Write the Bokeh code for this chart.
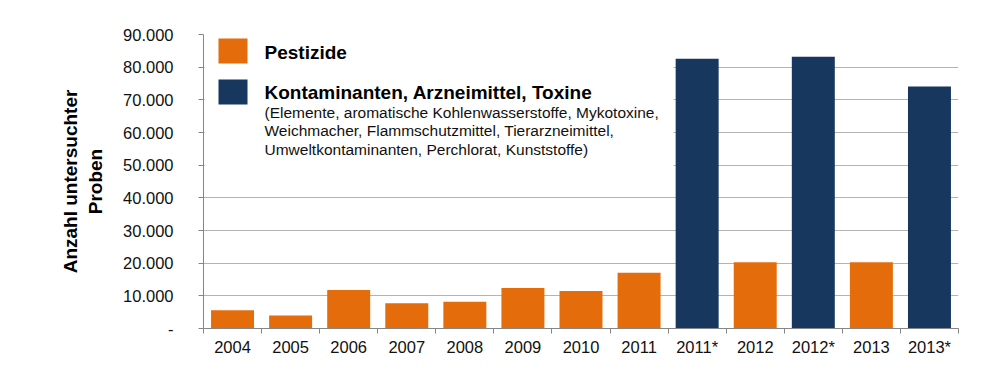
from bokeh.plotting import figure
from bokeh.models import Range1d, FixedTicker, BoxAnnotation, Label
from bokeh.embed import file_html
from bokeh.resources import INLINE

categories = ["2004", "2005", "2006", "2007", "2008", "2009", "2010", "2011",
              "2011*", "2012", "2012*", "2013", "2013*"]
pest_years = ["2004", "2005", "2006", "2007", "2008", "2009", "2010", "2011", "2012", "2013"]
pest_values = [5600, 4000, 11800, 7700, 8200, 12400, 11500, 17100, 20300, 20300]
kont_years = ["2011*", "2012*", "2013*"]
kont_values = [82600, 83200, 74100]
series_names = ["Pestizide", "Kontaminanten, Arzneimittel, Toxine"]
kont_detail = ["(Elemente, aromatische Kohlenwasserstoffe, Mykotoxine,",
               "Weichmacher, Flammschutzmittel, Tierarzneimittel,",
               "Umweltkontaminanten, Perchlorat, Kunststoffe)"]
y_ticks = [0, 10000, 20000, 30000, 40000, 50000, 60000, 70000, 80000, 90000]
y_tick_labels = ["-", "10.000", "20.000", "30.000", "40.000", "50.000",
                 "60.000", "70.000", "80.000", "90.000"]
y_title = "Anzahl untersuchter\nProben"

ORANGE = "#E46C0A"
NAVY = "#17375E"
FONT = "Liberation Sans"

n = len(categories)
centers = [i + 0.5 for i in range(n)]
bounds = [float(i) for i in range(n + 1)]

p = figure(width=984, height=375, output_backend="svg", toolbar_location=None,
           x_range=Range1d(0, n), y_range=Range1d(0, 90000),
           min_border_left=203, min_border_right=26, min_border_top=34,
           min_border_bottom=47)
p.outline_line_color = None
p.background_fill_color = "white"
p.border_fill_color = "white"

pest_x = [categories.index(c) + 0.5 for c in pest_years]
kont_x = [categories.index(c) + 0.5 for c in kont_years]
p.vbar(x=pest_x, top=pest_values, width=0.74, bottom=0, fill_color=ORANGE, line_color=None)
p.vbar(x=kont_x, top=kont_values, width=0.74, bottom=0, fill_color=NAVY, line_color=None)

# x axis
xa = p.xaxis[0]
xa.ticker = FixedTicker(ticks=centers, minor_ticks=bounds)
xa.major_label_overrides = {c: lab for c, lab in zip(centers, categories)}
xa.major_tick_line_color = None
xa.major_tick_out = 0
xa.major_tick_in = 0
xa.minor_tick_line_color = "#868686"
xa.minor_tick_out = 5
xa.minor_tick_in = 0
xa.axis_line_color = "#868686"
xa.major_label_text_font = FONT
xa.major_label_text_font_size = "16.5px"
xa.major_label_text_color = "#111111"
xa.major_label_standoff = 4

# y axis
ya = p.yaxis[0]
ya.ticker = FixedTicker(ticks=y_ticks)
ya.major_label_overrides = {t: lab for t, lab in zip(y_ticks, y_tick_labels)}
ya.minor_tick_line_color = None
ya.major_tick_line_color = "#868686"
ya.major_tick_out = 5
ya.major_tick_in = 0
ya.axis_line_color = "#868686"
ya.major_label_text_font = FONT
ya.major_label_text_font_size = "16.5px"
ya.major_label_text_color = "#111111"
ya.major_label_standoff = 25
ya.axis_label = y_title
ya.axis_label_text_font = FONT
ya.axis_label_text_font_size = "19px"
ya.axis_label_text_font_style = "bold"
ya.axis_label_text_color = "#000000"
ya.axis_label_standoff = 14

p.xgrid.grid_line_color = None
p.ygrid.grid_line_color = "#B4B4B4"
p.ygrid.grid_line_width = 1

# legend area (screen units relative to frame bottom-left)
p.add_layout(BoxAnnotation(left=1, right=470, bottom=158, top=295,
                           left_units="screen", right_units="screen",
                           bottom_units="screen", top_units="screen",
                           fill_color="white", fill_alpha=1.0, line_color=None))
p.add_layout(BoxAnnotation(left=15, right=44, bottom=265, top=290,
                           left_units="screen", right_units="screen",
                           bottom_units="screen", top_units="screen",
                           fill_color=ORANGE, fill_alpha=1.0, line_color=None))
p.add_layout(BoxAnnotation(left=15, right=44, bottom=224, top=249,
                           left_units="screen", right_units="screen",
                           bottom_units="screen", top_units="screen",
                           fill_color=NAVY, fill_alpha=1.0, line_color=None))
for name, yy in zip(series_names, [276, 236]):
    p.add_layout(Label(x=61, y=yy, x_units="screen", y_units="screen", text=name,
                       text_font=FONT, text_font_size="19px", text_font_style="bold",
                       text_baseline="middle", text_align="left", text_color="#000000"))
for line, yy in zip(kont_detail, [216, 198, 179]):
    p.add_layout(Label(x=61, y=yy, x_units="screen", y_units="screen", text=line,
                       text_font=FONT, text_font_size="15.5px",
                       text_baseline="middle", text_align="left", text_color="#111111"))

open("out.html", "w").write(file_html(p, INLINE))
